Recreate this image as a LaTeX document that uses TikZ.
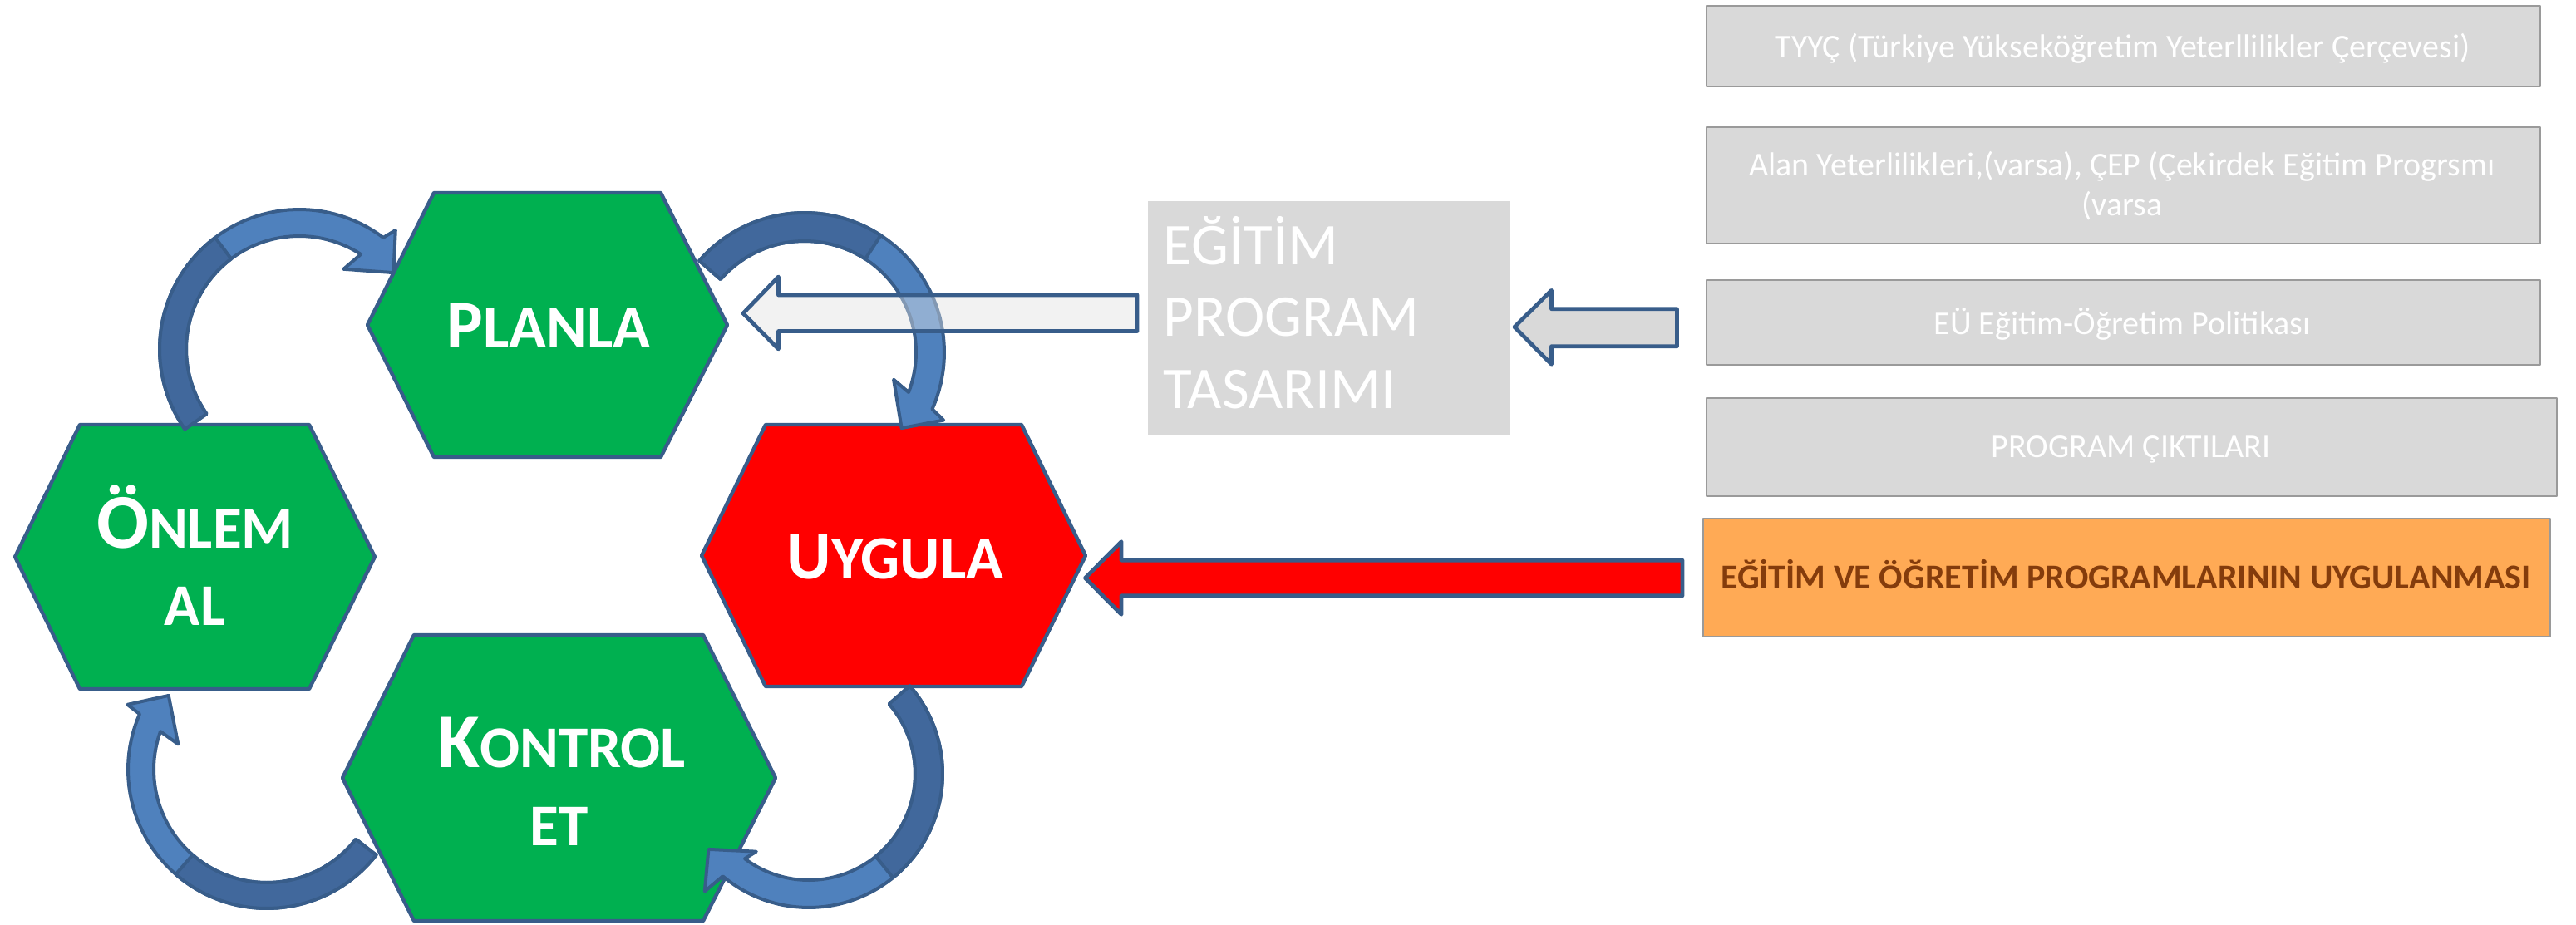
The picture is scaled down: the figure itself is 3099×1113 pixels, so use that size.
\documentclass[tikz,border=0pt]{standalone}
\usepackage{fontspec}
\setmainfont{Carlito}
\definecolor{hexgreen}{HTML}{00B050}
\definecolor{hexred}{HTML}{FF0000}
\definecolor{edgeblue}{HTML}{385D8A}
\definecolor{arrlight}{HTML}{4F81BD}
\definecolor{arrdark}{HTML}{41689C}
\definecolor{boxgray}{HTML}{D9D9D9}
\definecolor{boxline}{HTML}{9A9A9A}
\definecolor{arrwhite}{HTML}{F2F2F2}
\definecolor{orangebox}{HTML}{FFAA55}
\definecolor{browntext}{HTML}{843C0C}
\newcommand\hbig{\fontsize{20.5pt}{24pt}\selectfont}
\newcommand\hsml{\fontsize{18.5pt}{22pt}\selectfont}
\newcommand\kbig{\fontsize{23.3pt}{28pt}\selectfont}
\newcommand\ksml{\fontsize{17.8pt}{21pt}\selectfont}
\begin{document}
\begin{tikzpicture}[x=0.25pt, y=-0.25pt, line join=round,
  hex/.style={draw=edgeblue, line width=1.1pt},
  hextxt/.style={text=white, font=\bfseries, inner sep=0pt, anchor=base},
  band/.style={fill=arrlight, draw=edgeblue, line width=1pt},
  banddark/.style={fill=arrdark, draw=edgeblue, line width=1pt},
  blockarrow/.style={draw=edgeblue, line width=1.2pt},
  graybox/.style={fill=boxgray, draw=boxline, line width=0.5pt, inner sep=0pt, anchor=north west},
  boxtxt/.style={text=white, inner sep=0pt, anchor=base, font=\fontsize{10pt}{12pt}\selectfont},
  bigtxt/.style={text=white, inner sep=0pt, anchor=base west, font=\fontsize{17.8pt}{21pt}\selectfont}
]
\useasboundingbox (0,0) rectangle (3099,1113);

% ---------- hexagons ----------
\coordinate (onlem) at (234.5,670);
\coordinate (planla) at (658.5,391);
\coordinate (uygula) at (1075,668.5);
\coordinate (kontrol) at (672.5,936);
\draw[hex, fill=hexgreen] (18,670) -- (96,511) -- (372,511) -- (451,670) -- (372,829) -- (96,829) -- cycle;
\draw[hex, fill=hexgreen] (442,391) -- (522,232) -- (795,232) -- (875,391) -- (795,550) -- (522,550) -- cycle;
\draw[hex, fill=hexred] (844,668.5) -- (921,511) -- (1229,511) -- (1306,668.5) -- (1229,826) -- (921,826) -- cycle;
\draw[hex, fill=hexgreen] (412,936) -- (498,764) -- (846,764) -- (933,936) -- (846,1108) -- (498,1108) -- cycle;

% ---------- gray design box ----------
\node[graybox, draw=none, minimum width=109pt, minimum height=70.25pt] (tasarim) at (1380,241) {};

% white arrow (opaque base)
\fill[arrwhite] (894,377) -- (936.5,333) -- (936.5,355) -- (1368,355) -- (1368,398.5) -- (936.5,398.5) -- (936.5,420) -- cycle;

% ---------- curved arrows ----------
% top-left: ONLEM -> PLANLA
\def\cx{360}\def\cy{420}
\path[band] plot[domain=215:53,samples=60,variable=\t] ({\cx+168*cos(\t)},{\cy-168*sin(\t)})
  -- ({\cx+184*cos(51)},{\cy-184*sin(51)}) -- ({\cx+146*cos(39)},{\cy-146*sin(39)}) -- ({\cx+110*cos(61)},{\cy-110*sin(61)})
  --plot[domain=57:215,samples=60,variable=\t] ({\cx+136*cos(\t)},{\cy-136*sin(\t)}) -- cycle;
\path[banddark] plot[domain=215:127,samples=40,variable=\t] ({\cx+168*cos(\t)},{\cy-168*sin(\t)})
  --plot[domain=127:215,samples=40,variable=\t] ({\cx+136*cos(\t)},{\cy-136*sin(\t)}) -- cycle;

% top-right: PLANLA -> UYGULA
\def\cx{968}\def\cy{424}
\path[band] plot[domain=139:-24,samples=60,variable=\t] ({\cx+168*cos(\t)},{\cy-168*sin(\t)})
  -- ({\cx+186*cos(-26)},{\cy-186*sin(-26)}) -- ({\cx+148*cos(-38)},{\cy-148*sin(-38)}) -- ({\cx+112*cos(-17)},{\cy-112*sin(-17)})
  --plot[domain=-21:139,samples=60,variable=\t] ({\cx+134*cos(\t)},{\cy-134*sin(\t)}) -- cycle;
\path[banddark] plot[domain=139:57,samples=40,variable=\t] ({\cx+168*cos(\t)},{\cy-168*sin(\t)})
  --plot[domain=57:139,samples=40,variable=\t] ({\cx+134*cos(\t)},{\cy-134*sin(\t)}) -- cycle;

% bottom-right: UYGULA -> KONTROL
\def\cx{973}\def\cy{931}
\path[band] plot[domain=41:-130,samples=60,variable=\t] ({\cx+161*cos(\t)},{\cy-161*sin(\t)})
  -- ({\cx+189*cos(-131.5)},{\cy-189*sin(-131.5)}) -- ({\cx+151*cos(-143)},{\cy-151*sin(-143)}) -- ({\cx+113*cos(-124)},{\cy-113*sin(-124)})
  --plot[domain=-127:41,samples=60,variable=\t] ({\cx+128*cos(\t)},{\cy-128*sin(\t)}) -- cycle;
\path[banddark] plot[domain=41:-51,samples=40,variable=\t] ({\cx+161*cos(\t)},{\cy-161*sin(\t)})
  --plot[domain=-51:41,samples=40,variable=\t] ({\cx+128*cos(\t)},{\cy-128*sin(\t)}) -- cycle;

% bottom-left: KONTROL -> ONLEM
\def\cx{321}\def\cy{926}
\path[band] plot[domain=-38:-203.6,samples=60,variable=\t] ({\cx+167*cos(\t)},{\cy-167*sin(\t)})
  -- ({\cx+185*cos(-205)},{\cy-185*sin(-205)}) -- ({\cx+148*cos(-217)},{\cy-148*sin(-217)}) -- ({\cx+111*cos(-196)},{\cy-111*sin(-196)})
  --plot[domain=-199.7:-38,samples=60,variable=\t] ({\cx+136*cos(\t)},{\cy-136*sin(\t)}) -- cycle;
\path[banddark] plot[domain=-38:-131,samples=40,variable=\t] ({\cx+167*cos(\t)},{\cy-167*sin(\t)})
  --plot[domain=-131:-38,samples=40,variable=\t] ({\cx+136*cos(\t)},{\cy-136*sin(\t)}) -- cycle;

% white arrow (translucent overlay + outline): TASARIM -> PLANLA
\draw[blockarrow, fill=arrwhite, fill opacity=0.4] (894,377) -- (936.5,333) -- (936.5,355) -- (1368,355) -- (1368,398.5) -- (936.5,398.5) -- (936.5,420) -- cycle;

% gray arrow: right boxes -> TASARIM
\draw[blockarrow, fill=boxgray] (1822,393.5) -- (1866.5,349.3) -- (1866.5,371.7) -- (2017.4,371.7) -- (2017.4,416.7) -- (1866.5,416.7) -- (1866.5,438.3) -- cycle;

% red arrow: orange box -> UYGULA
\draw[blockarrow, fill=hexred] (1305.5,695.5) -- (1349,651.7) -- (1349,674.3) -- (2024,674.3) -- (2024,716.7) -- (1349,716.7) -- (1349,739.3) -- cycle;

% ---------- hexagon texts ----------
\node[hextxt] (planlaT) at (660,418) {\hbig P\hsml LANLA};
\node[hextxt] (uygulaT) at (1077,696) {\hbig U\hsml YGULA};
\node[hextxt] (onlemT) at (234.5,659) {\kbig Ö\ksml NLEM};
\node[hextxt] (onlemT2) at (234.5,752) {\ksml AL};
\node[hextxt] (kontrolT) at (675.5,923) {\kbig K\ksml ONTROL};
\node[hextxt] (kontrolT2) at (672.5,1017) {\ksml ET};

% ---------- design box text ----------
\node[bigtxt] (tas1) at (1399,318) {EĞİTİM};
\node[bigtxt] (tas2) at (1399,404) {PROGRAM};
\node[bigtxt] (tas3) at (1399,491) {TASARIMI};

% ---------- right column boxes ----------
\node[graybox, minimum width=250.75pt, minimum height=24.125pt] (b1) at (2052,6) {};
\node[graybox, minimum width=250.75pt, minimum height=35pt] (b2) at (2052,151.5) {};
\node[graybox, minimum width=250.75pt, minimum height=25.5pt] (b3) at (2052,336) {};
\node[graybox, minimum width=255.75pt, minimum height=29.625pt] (b4) at (2052,477.5) {};
\node[graybox, fill=orangebox, minimum width=254.75pt, minimum height=35.5pt] (b5) at (2048,623) {};

\node[boxtxt] (t1) at (2553.5,69) {TYYÇ (Türkiye Yükseköğretim Yeterllilikler Çerçevesi)};
\node[boxtxt] (t2a) at (2553,211.5) {Alan Yeterlilikleri,(varsa), ÇEP (Çekirdek Eğitim Progrsmı};
\node[boxtxt] (t2b) at (2553,259) {(varsa};
\node[boxtxt] (t3) at (2553,402.5) {EÜ Eğitim-Öğretim Politikası};
\node[boxtxt] (t4) at (2563.5,550) {PROGRAM ÇIKTILARI};
\node[boxtxt, text=browntext, font=\fontsize{10.5pt}{12.6pt}\selectfont\bfseries] (t5) at (2557.5,708) {EĞİTİM VE ÖĞRETİM PROGRAMLARININ UYGULANMASI};
\end{tikzpicture}
\end{document}
